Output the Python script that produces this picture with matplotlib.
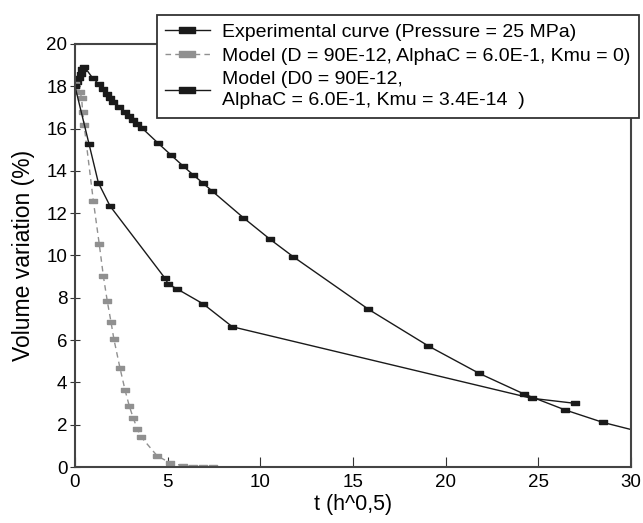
import matplotlib
matplotlib.use("Agg")
import matplotlib.pyplot as plt

plt.rcParams['font.family'] = ['Liberation Sans', 'DejaVu Sans']

# experimental data (upper curve)
exp_t = [0.0, 0.1, 0.2, 0.3, 0.4, 0.5, 0.96, 1.31, 1.53, 1.71, 1.89, 2.07, 2.39,
         2.70, 2.91, 3.15, 3.36, 3.60, 4.46, 5.18, 5.81, 6.38, 6.92, 7.41,
         9.08, 10.52, 11.78, 15.83, 19.07, 21.80, 24.23, 26.44, 28.48, 30.1]
exp_v = [18.0, 18.2, 18.4, 18.6, 18.8, 18.93, 18.38, 18.09, 17.86, 17.62, 17.43,
         17.27, 17.04, 16.80, 16.61, 16.41, 16.22, 16.04, 15.33, 14.75, 14.25,
         13.81, 13.41, 13.04, 11.79, 10.77, 9.94, 7.46, 5.72, 4.43, 3.45, 2.70,
         2.11, 1.75]
exp_marks = list(range(len(exp_t) - 1))

# model, Kmu = 0 (grey dashed)
m1_t = [0.0, 0.27, 0.36, 0.41, 0.49, 0.99, 1.31, 1.53, 1.74, 1.94, 2.10, 2.43,
        2.70, 2.93, 3.15, 3.36, 3.56, 4.44, 5.13, 5.81, 6.35, 6.89, 7.43]
m1_v = [18.1, 17.75, 17.43, 16.8, 16.17, 12.58, 10.53, 9.03, 7.85, 6.87, 6.04,
        4.67, 3.64, 2.88, 2.30, 1.80, 1.43, 0.52, 0.20, 0.06, 0.02, 0.01, 0.0]

# model, Kmu = 3.4E-14 (lower black curve)
m2_t = [0.0, 0.76, 1.26, 1.89, 4.86, 5.04, 5.49, 6.92, 8.49, 24.64, 26.98]
m2_v = [18.0, 15.26, 13.44, 12.34, 8.92, 8.64, 8.43, 7.71, 6.63, 3.25, 3.01]

labels = ["Experimental curve (Pressure = 25 MPa)",
          "Model (D = 90E-12, AlphaC = 6.0E-1, Kmu = 0)",
          "Model (D0 = 90E-12,\nAlphaC = 6.0E-1, Kmu = 3.4E-14  )"]

rect = [(-1, -0.55), (1, -0.55), (1, 0.55), (-1, 0.55), (-1, -0.55)]
wide = [(-1, -0.38), (1, -0.38), (1, 0.38), (-1, 0.38), (-1, -0.38)]
black = '#1a1a1a'
grey = '#909090'

fig = plt.figure(figsize=(6.43, 5.23), dpi=100)
ax = fig.add_axes([75/643, 1-467/523, (631-75)/643, (467-44)/523])

ax.plot(exp_t, exp_v, color=black, lw=1.0, marker=rect, ms=5.2,
        markevery=exp_marks, label=labels[0])
ax.plot(m1_t, m1_v, color=grey, lw=1.0, ls=(0, (4, 3)), marker=rect,
        ms=5.2, mec=grey, mfc=grey, label=labels[1])
ax.plot(m2_t, m2_v, color=black, lw=1.0, marker=rect, ms=5.2,
        label=labels[2])

ax.set_xlim(0, 30)
ax.set_ylim(0, 20)
ax.set_xticks(range(0, 31, 5))
ax.set_yticks(range(0, 21, 2))
ax.tick_params(axis='x', direction='in', length=7, labelsize=13.5, pad=5,
               color='#333333')
ax.tick_params(axis='y', direction='inout', length=7, labelsize=13.5, pad=2,
               color='#333333')
for s in ax.spines.values():
    s.set_color('#444444')
    s.set_linewidth(1.5)

ax.set_xlabel("t (h^0,5)", fontsize=15.5, labelpad=2)
ax.set_ylabel("Volume variation (%)", fontsize=16.5, labelpad=8)

leg = ax.legend(loc='upper right', bbox_to_anchor=(639/643, 1-15/523),
                bbox_transform=fig.transFigure, fancybox=False, fontsize=14,
                borderaxespad=0, handlelength=2.3, handletextpad=0.65,
                labelspacing=0.32, borderpad=0.42, framealpha=1)
leg.get_frame().set_edgecolor('#333333')
leg.get_frame().set_linewidth(1.3)
for t in leg.get_texts():
    t.set_linespacing(1.35)
for h in leg.legend_handles:
    h.set_marker(wide)
    h.set_markersize(11.5)

fig.savefig("out.png", dpi=100)
